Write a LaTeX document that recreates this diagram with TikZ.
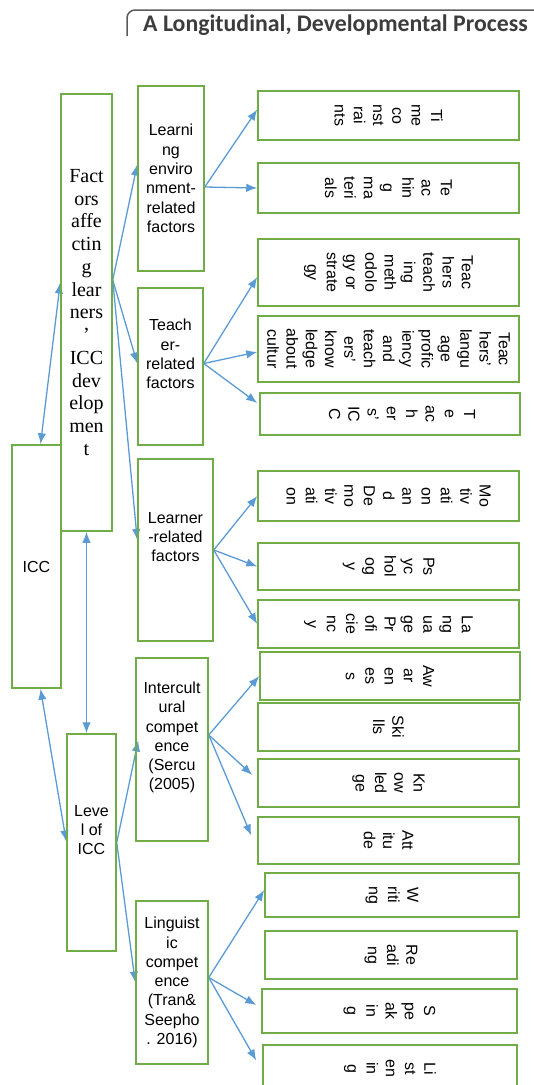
\documentclass[tikz,border=0pt]{standalone}
\usepackage{fontspec}
\setmainfont{Liberation Sans}
\newfontfamily\facfont{Liberation Serif}
\newfontfamily\headfont{Carlito}
\usetikzlibrary{arrows.meta}
\pgfdeclarelayer{bg}
\pgfsetlayers{bg,main}
\definecolor{boxgreen}{RGB}{112,173,71}
\definecolor{linkblue}{RGB}{91,155,213}
\definecolor{headgray}{RGB}{60,60,60}
\definecolor{framegray}{RGB}{90,90,90}
\tikzset{
    box/.style={rectangle, draw=boxgreen, line width=1.5pt, inner sep=0pt, align=center, font=\fontsize{16}{19.3}\selectfont},
    rbox/.style={box, minimum width=261pt},
    mtext/.style={align=center, inner sep=0pt, font=\fontsize{16}{19.3}\selectfont},
    vtext/.style={mtext, rotate=-90},
    link/.style={draw=linkblue, line width=1.3pt, -{Latex[length=11pt,width=8.5pt]}},
    dlink/.style={link, {Latex[length=11pt,width=8.5pt]}-{Latex[length=11pt,width=8.5pt]}}
}

\begin{document}
\begin{tikzpicture}[x=1pt, y=-1pt]
    \useasboundingbox (0,0) rectangle (534,1085);
    \clip (0,0) rectangle (534,1085);

    % heading
    \draw[framegray, line width=1.5pt, rounded corners=8pt] (127,36) -- (127,10) -- (545,10);
    \node (title) [anchor=west, inner sep=0pt, text=headgray, font=\headfont\bfseries\fontsize{23.8}{28}\selectfont] at (143,25) {A Longitudinal, Developmental Process};

    % left column
    \node (icc) [box, minimum width=49pt, minimum height=243pt] at (36.5,566.5) {ICC};
    \node (fac) [box, minimum width=51pt, minimum height=437pt, font=\facfont\fontsize{20}{22.75}\selectfont] at (86.5,312.5)
        {Fact\\ors\\affe\\ctin\\g\\lear\\ners\\’\\ICC\\dev\\elop\\men\\t};
    \node (lvl) [box, minimum width=49pt, minimum height=217pt, label={[mtext, yshift=12.5pt]center:Leve\\l of\\ICC}] at (91.5,842.5) {};

    % middle column
    \node (lenv) [box, minimum width=66pt, minimum height=185pt] at (171,178.5)
        {Learni\\ng\\enviro\\nment-\\related\\factors};
    \node (teach) [box, minimum width=65pt, minimum height=157pt, label={[mtext, yshift=12.5pt]center:Teach\\er-\\related\\factors}] at (170.5,366.5) {};
    \node (lrn) [box, minimum width=75pt, minimum height=182pt, label={[mtext, yshift=13pt]center:Learner\\-related\\factors}] at (175.5,550) {};
    \node (icul) [box, minimum width=72pt, minimum height=183pt, label={[mtext, yshift=12pt]center:Intercult\\ural\\compet\\ence\\(Sercu\\(2005)}] at (172,749.5) {};
    \node (ling) [box, minimum width=72pt, minimum height=163pt] at (172,982.5)
        {Linguist\\ic\\compet\\ence\\(Tran\&\\Seepho\\. 2016)};

    % right column
    \node (time) [rbox, minimum height=49pt, label={[vtext]center:Ti\\me\\co\\nst\\rai\\nts}] at (388.5,115.5) {};
    \node (tmat) [rbox, minimum height=50pt, label={[vtext]center:Te\\ac\\hin\\g\\ma\\teri\\als}] at (388.5,188) {};
    \node (tmeth) [rbox, minimum height=67pt, label={[vtext]center:Teac\\hers\\teach\\ing\\meth\\odolo\\gy or\\strate\\gy}] at (388.5,272.5) {};
    \node (tlang) [rbox, minimum height=66pt, label={[vtext]center:Teac\\hers'\\langu\\age\\profic\\iency\\and\\teach\\ers'\\know\\ledge\\about\\cultur}] at (388.5,349) {};
    \node (ticc) [rbox, minimum width=260pt, minimum height=42pt, label={[vtext, yshift=12pt]center:T\\e\\ac\\h\\er\\s'\\IC\\C}] at (390,414) {};
    \node (motiv) [rbox, minimum height=50pt, label={[vtext]center:Mo\\tiv\\ati\\on\\an\\d\\De\\mo\\tiv\\ati\\on}] at (388.5,496) {};
    \node (psych) [rbox, minimum height=47pt, label={[vtext]center:Ps\\yc\\hol\\og\\y}] at (388.5,566.5) {};
    \node (lprof) [rbox, minimum height=48pt, label={[vtext]center:La\\ng\\ua\\ge\\Pr\\ofi\\cie\\nc\\y}] at (388.5,624) {};
    \node (aware) [rbox, minimum width=260pt, minimum height=48pt, label={[vtext]center:Aw\\ar\\en\\es\\s}] at (390,676) {};
    \node (skill) [rbox, minimum height=48pt, label={[vtext]center:Ski\\lls}] at (388.5,727) {};
    \node (know) [rbox, minimum height=48pt, label={[vtext]center:Kn\\ow\\led\\ge}] at (388.5,783) {};
    \node (att) [rbox, minimum height=47pt, label={[vtext]center:Att\\itu\\de}] at (388.5,840.5) {};
    \node (writ) [rbox, minimum width=254pt, minimum height=44pt, label={[vtext]center:W\\riti\\ng}] at (392,895) {};
    \node (read) [rbox, minimum width=252pt, minimum height=48pt, label={[vtext]center:Re\\adi\\ng}] at (391,955) {};
    \node (speak) [rbox, minimum width=255pt, minimum height=44pt, label={[vtext]center:S\\pe\\ak\\in\\g}] at (389.5,1011) {};
    \node (list) [rbox, minimum width=254pt, minimum height=47pt, label={[vtext]center:Li\\st\\en\\in\\g}] at (390,1068.5) {};

    \begin{pgfonlayer}{bg}
        \draw ([xshift=4pt]icc.north) edge[dlink] ([yshift=30pt]fac.west);
        \draw (fac.south) edge[dlink] (fac.south |- lvl.north);
        \draw ([xshift=4pt]icc.south) edge[dlink] ([yshift=1pt]lvl.west);
        \draw ([yshift=32.5pt]fac.east) edge[link] ([yshift=14pt]lenv.west);
        \draw ([yshift=32.5pt]fac.east) edge[link] ([yshift=3pt]teach.west);
        \draw ([yshift=32.5pt]fac.east) edge[link] ([yshift=10pt]lrn.west);
        \draw ([yshift=-8.5pt]lenv.east) edge[link] ([yshift=6pt]time.west);
        \draw ([yshift=-8.5pt]lenv.east) edge[link] (tmat.west);
        \draw ([yshift=3pt]teach.east) edge[link] ([yshift=-4.5pt]tmeth.west);
        \draw ([yshift=3pt]teach.east) edge[link] ([yshift=-3pt]tlang.west);
        \draw ([yshift=3pt]teach.east) edge[link] ([xshift=-2pt, yshift=11pt]ticc.west);
        \draw (lrn.east) edge[link] (motiv.west);
        \draw (lrn.east) edge[link] (psych.west);
        \draw (lrn.east) edge[link] (lprof.west);
        \draw (lvl.east) edge[link] ([xshift=3pt, yshift=9pt]icul.west);
        \draw (lvl.east) edge[link] (ling.west);
        \draw ([yshift=14.5pt]icul.east) edge[link] (aware.west);
        \draw ([yshift=14.5pt]icul.east) edge[link] ([xshift=-5pt, yshift=8pt]know.west);
        \draw ([yshift=14.5pt]icul.east) edge[link] ([xshift=-6pt, yshift=5pt]att.west);
        \draw ([yshift=5pt]ling.east) edge[link] ([yshift=5pt]writ.west);
        \draw ([yshift=5pt]ling.east) edge[link] ([xshift=-5pt, yshift=6pt]speak.west);
        \draw ([yshift=5pt]ling.east) edge[link] ([xshift=-6pt, yshift=8pt]list.west);
    \end{pgfonlayer}
\end{tikzpicture}
\end{document}
